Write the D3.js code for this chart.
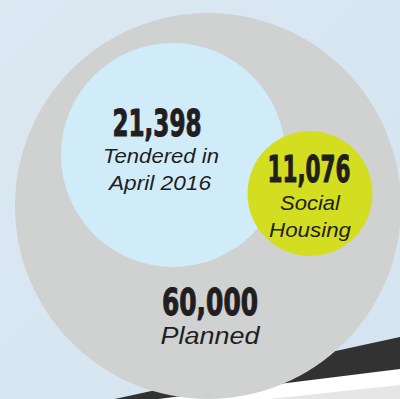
<!DOCTYPE html>
<html>
<head>
<meta charset="utf-8">
<script src="https://cdn.jsdelivr.net/npm/d3@7"></script>
<style>
  html, body { margin: 0; padding: 0; background: #d6e6f1; }
  svg { display: block; }
</style>
</head>
<body>
<svg id="chart" width="400" height="399"></svg>
<script>
// Housing figures shown as nested circles
const categories = ["Planned", "Tendered in April 2016", "Social Housing"];
const values = [60000, 21398, 11076];
const labelLines = [["Planned"], ["Tendered in", "April 2016"], ["Social", "Housing"]];

const W = 400, H = 399;
const svg = d3.select("#chart");

// Circle layout: centres and the radius each value is drawn at
const centers = [[208, 206], [173, 155], [310, 193.5]];
const fills = ["#d0d1d1", "#d1ecf9", "#d4de20"];
const radius = d3.scaleLinear()
  .domain([0, 11076, 21398, 60000])
  .range([0, 62.5, 112, 193]);
const fmt = d3.format(",");

// Background with a faint diagonal wash
const defs = svg.append("defs");
const grad = defs.append("linearGradient").attr("id", "bg")
  .attr("x1", 0).attr("y1", 0).attr("x2", 1).attr("y2", 1);
grad.append("stop").attr("offset", 0).attr("stop-color", "#dce8f2");
grad.append("stop").attr("offset", 1).attr("stop-color", "#d3e4f0");
svg.append("rect").attr("width", W).attr("height", H).attr("fill", "url(#bg)");

// Road-like bands in the lower right corner
const line = d3.line();
svg.append("path")
  .attr("d", line([[110, 400], [400, 337], [400, 400]]) + "Z")
  .attr("fill", "#323232");
svg.append("path")
  .attr("d", line([[150, 400], [400, 369], [400, 400]]) + "Z")
  .attr("fill", "#ffffff");
svg.append("path")
  .attr("d", line([[260, 400], [400, 385], [400, 400]]) + "Z")
  .attr("fill", "#e6e6e7");

// Circles, largest first
const data = categories.map((c, i) => ({
  name: c, value: values[i], lines: labelLines[i],
  cx: centers[i][0], cy: centers[i][1], fill: fills[i]
}));

svg.selectAll("circle.bubble")
  .data(data)
  .join("circle")
  .attr("class", "bubble")
  .attr("cx", d => d.cx)
  .attr("cy", d => d.cy)
  .attr("r", d => radius(d.value))
  .attr("fill", d => d.fill);

// Text placement for each circle: number baseline, label baselines, widths
const textLayout = [
  { x: 210, numY: 315, numW: 96, lineY: [344], lineW: [99] },
  { x: 157, numY: 136, numW: 89, lineY: [163, 190], lineW: [116, 102], lineX: [161, 160] },
  { x: 309, numY: 182, numW: 83, lineY: [210, 237], lineW: [60, 82], lineX: [310, 310] }
];

const numFont = "'Liberation Sans Narrow', 'DejaVu Sans Condensed', 'Liberation Sans', sans-serif";
const labelFont = "'Liberation Sans', Arial, sans-serif";
const ink = "#221e1f";

data.forEach((d, i) => {
  const t = textLayout[i];
  svg.append("text")
    .attr("x", t.x).attr("y", t.numY)
    .attr("text-anchor", "middle")
    .attr("font-family", numFont)
    .attr("font-weight", "bold")
    .attr("font-size", 37)
    .attr("fill", ink)
    .attr("stroke", ink)
    .attr("stroke-width", 1)
    .attr("stroke-linejoin", "round")
    .attr("textLength", t.numW)
    .attr("lengthAdjust", "spacingAndGlyphs")
    .text(fmt(d.value));
  d.lines.forEach((ln, j) => {
    svg.append("text")
      .attr("x", t.lineX ? t.lineX[j] : t.x).attr("y", t.lineY[j])
      .attr("text-anchor", "middle")
      .attr("font-family", labelFont)
      .attr("font-style", "italic")
      .attr("font-size", i === 0 ? 23 : 20)
      .attr("fill", ink)
      .attr("textLength", t.lineW[j])
      .attr("lengthAdjust", "spacingAndGlyphs")
      .text(ln);
  });
});
</script>
</body>
</html>
